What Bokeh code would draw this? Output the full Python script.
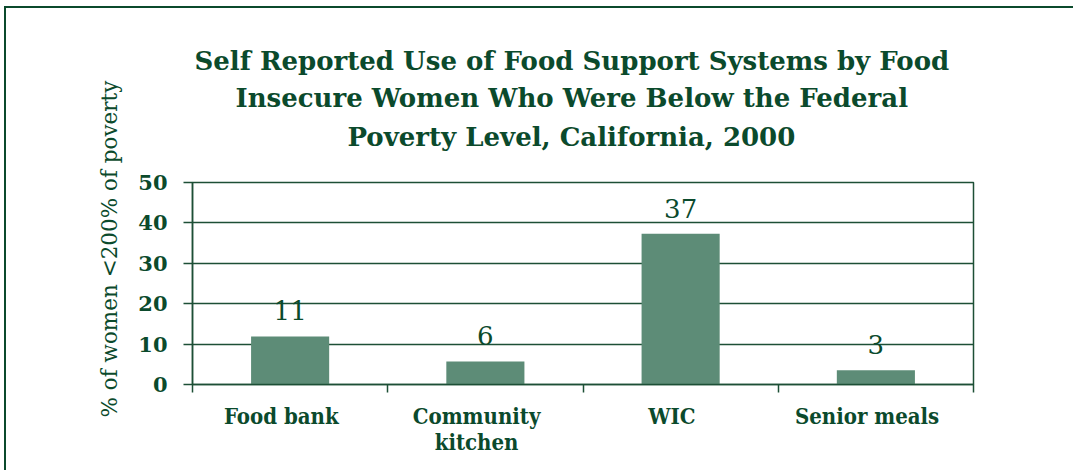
import numpy as np
from bokeh.plotting import figure
from bokeh.models import Range1d, FixedTicker, Title, ColumnDataSource
from bokeh.core.properties import value
from bokeh.embed import file_html
from bokeh.resources import INLINE

# ---- data ----
categories = ["Food bank", "Community\nkitchen", "WIC", "Senior meals"]
values = [11.9, 5.7, 37.3, 3.5]
value_labels = ["11", "6", "37", "3"]
y_ticks = [0, 10, 20, 30, 40, 50]
title_lines = [
    "Self Reported Use of Food Support Systems by Food",
    "Insecure Women Who Were Below the Federal",
    "Poverty Level, California,  2000",
]
y_label = "% of women <200% of poverty"

GREEN = "#0b4a2c"
GRID = "#1d4f36"
BAR = "#5d8c77"
SERIF = "DejaVu Serif"

W, H = 1069, 464

x = np.arange(len(categories)) + 0.5
src = ColumnDataSource(dict(x=x, top=values, lab=value_labels))

p = figure(width=W, height=H,
           x_range=Range1d(0, len(categories)), y_range=Range1d(0, 50),
           output_backend="svg", toolbar_location=None,
           min_border_left=186, min_border_right=102,
           min_border_top=174, min_border_bottom=88)
p.styles = {"border-left": f"2px solid {GREEN}", "border-top": f"2px solid {GREEN}",
            "margin-left": "4px", "margin-top": "6px"}

p.background_fill_color = "white"
p.border_fill_color = "white"
p.outline_line_color = GRID
p.outline_line_width = 1.5

p.vbar(x="x", top="top", width=0.4, source=src, fill_color=BAR, line_color=None)
p.text(x="x", y="top", text="lab", source=src, text_align="center",
       text_baseline="bottom", y_offset=-16, text_font=value(SERIF),
       text_font_size="26px", text_color=GREEN)

# grid
p.xgrid.visible = False
p.ygrid.ticker = FixedTicker(ticks=y_ticks)
p.ygrid.grid_line_color = GRID
p.ygrid.grid_line_width = 1.5

# y axis
ya = p.yaxis[0]
ya.ticker = FixedTicker(ticks=y_ticks)
ya.axis_line_color = GRID
ya.axis_line_width = 1.5
ya.major_tick_line_color = GRID
ya.major_tick_line_width = 1.5
ya.major_tick_out = 9
ya.major_tick_in = 0
ya.minor_tick_line_color = None
ya.major_label_standoff = 16
ya.major_label_text_font = SERIF
ya.major_label_text_font_style = "bold"
ya.major_label_text_font_size = "21px"
ya.major_label_text_color = GREEN

# x axis: invisible major ticks carry the category names (set slightly left,
# as in the original), minor ticks mark the category boundaries
label_pos = [float(v) - 0.045 for v in x]
xa = p.xaxis[0]
xa.ticker = FixedTicker(ticks=label_pos, minor_ticks=list(range(len(categories) + 1)))
xa.major_label_overrides = {t: c for t, c in zip(label_pos, categories)}
xa.axis_line_color = GRID
xa.axis_line_width = 1.5
xa.major_tick_line_color = None
xa.major_tick_out = 8
xa.major_tick_in = 0
xa.minor_tick_line_color = GRID
xa.minor_tick_line_width = 1.5
xa.minor_tick_out = 8
xa.minor_tick_in = 0
xa.major_label_standoff = 10
xa.major_label_text_font = "DejaVu Serif Condensed"
xa.major_label_text_font_style = "bold"
xa.major_label_text_font_size = "22px"
xa.major_label_text_color = GREEN
xa.major_label_text_line_height = 1.0

# spacer between the frame and the title block
p.add_layout(Title(text=" ", vertical_align="middle", standoff=13,
                   text_font_size="10px"), "above")

# title: one line per Title, added from the frame outwards
for line, standoff, offset in zip(reversed(title_lines), [8, 5, 5], [155, 43, 2]):
    p.add_layout(Title(text=line, align="left", offset=offset, standoff=standoff,
                       vertical_align="middle",
                       text_font=SERIF, text_font_style="bold",
                       text_font_size="26px", text_color=GREEN), "above")

# y axis label
p.add_layout(Title(text=y_label, align="left", offset=-33, standoff=27,
                   text_font=SERIF, text_font_style="normal",
                   text_font_size="21.5px", text_color=GREEN), "left")

open("out.html", "w").write(file_html(p, INLINE))
